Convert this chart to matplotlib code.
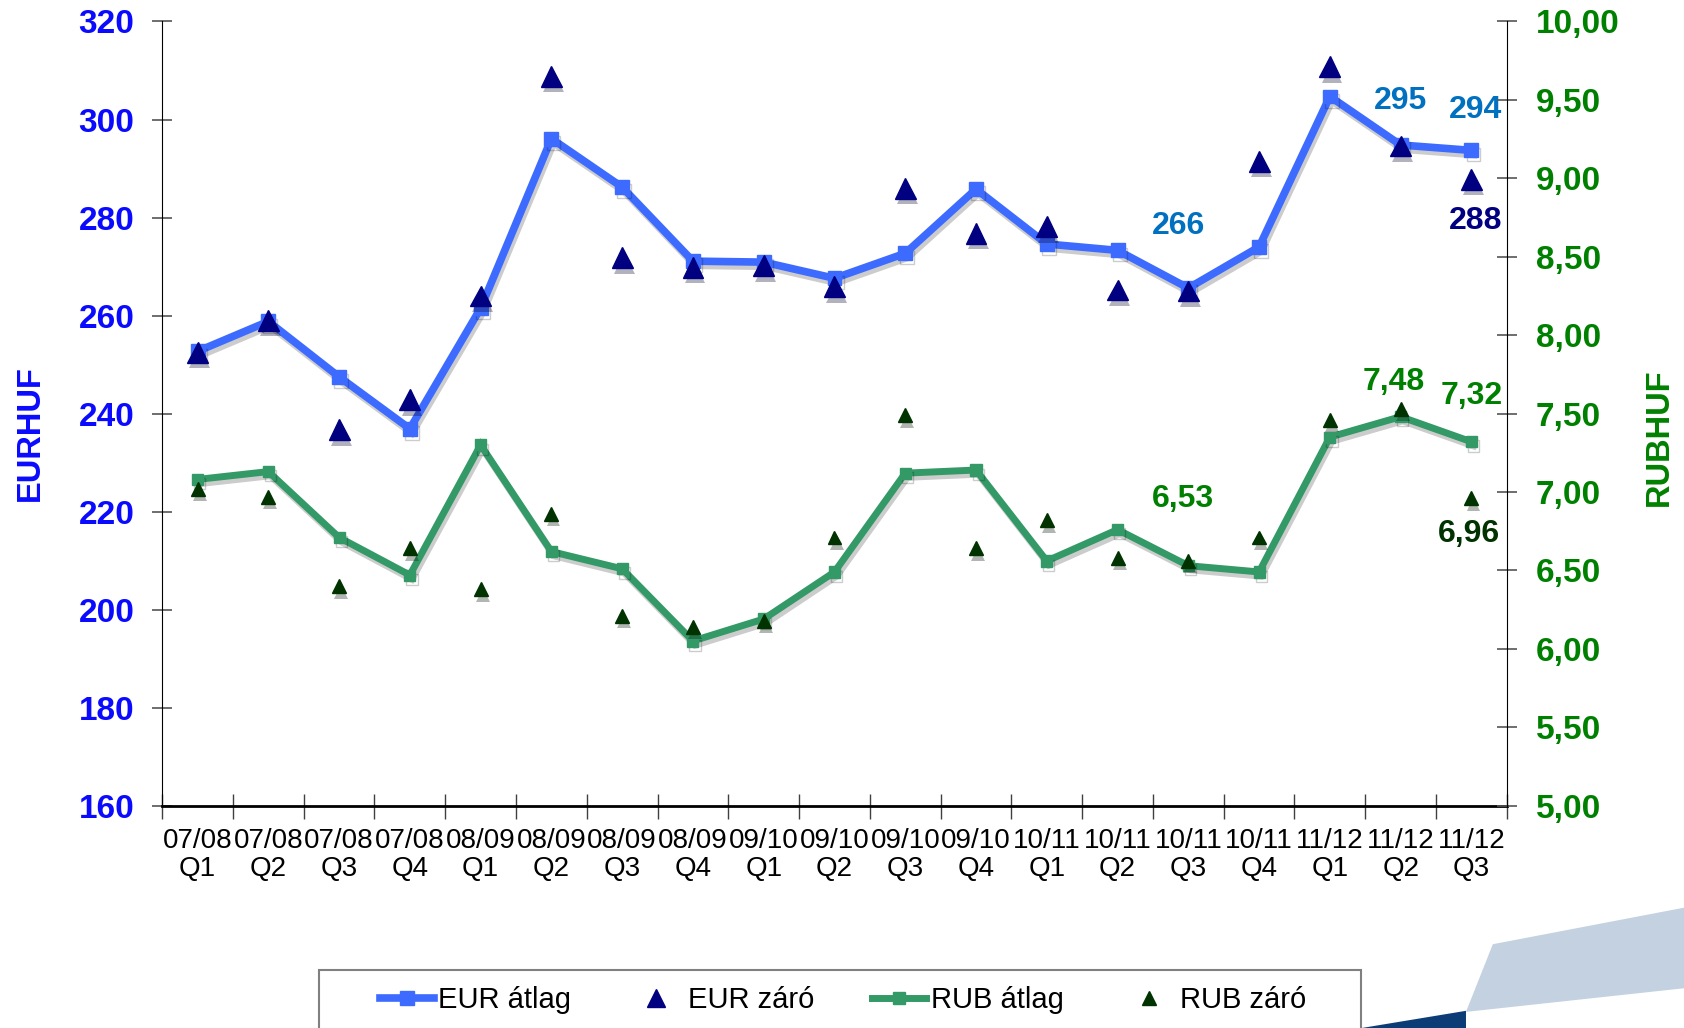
import matplotlib
matplotlib.use('Agg')
import matplotlib.pyplot as plt
import matplotlib.ticker as mtick
import matplotlib.patheffects as pe
from matplotlib.lines import Line2D
from matplotlib.patches import Polygon, Rectangle

plt.rcParams['font.family'] = ['Liberation Sans', 'DejaVu Sans']

# --- adatok ---
negyedevek = ['07/08\nQ1', '07/08\nQ2', '07/08\nQ3', '07/08\nQ4',
              '08/09\nQ1', '08/09\nQ2', '08/09\nQ3', '08/09\nQ4',
              '09/10\nQ1', '09/10\nQ2', '09/10\nQ3', '09/10\nQ4',
              '10/11\nQ1', '10/11\nQ2', '10/11\nQ3', '10/11\nQ4',
              '11/12\nQ1', '11/12\nQ2', '11/12\nQ3']
eur_atlag = [252.7, 258.8, 247.5, 236.9, 261.5, 296.1, 286.2, 271.1, 270.9, 267.6,
             272.7, 285.8, 274.6, 273.3, 265.6, 274.0, 304.7, 294.8, 293.7]
eur_zaro = [252.5, 259.0, 236.7, 242.8, 264.0, 308.8, 271.8, 269.8, 270.2, 265.9,
            286.0, 276.8, 278.1, 265.2, 265.0, 291.5, 310.8, 294.6, 287.8]
rub_atlag = [7.08, 7.13, 6.71, 6.47, 7.30, 6.62, 6.51, 6.05, 6.19, 6.49,
             7.12, 7.14, 6.56, 6.76, 6.53, 6.49, 7.35, 7.48, 7.32]
rub_zaro = [7.02, 6.97, 6.40, 6.64, 6.38, 6.86, 6.21, 6.14, 6.18, 6.71,
            7.49, 6.64, 6.82, 6.58, 6.56, 6.71, 7.46, 7.53, 6.96]

# feliratok: (index, sorozat, szöveg, eltolás pontban, szín)
eur_cimkek = [(14, eur_atlag, '266', (-7, 45), '#0070C0'),
              (17, eur_atlag, '295', (0, 32), '#0070C0'),
              (18, eur_atlag, '294', (3, 29), '#0070C0'),
              (18, eur_zaro, '288', (3, -30), '#000080')]
rub_cimkek = [(14, rub_atlag, '6,53', (-4, 48), '#008000'),
              (17, rub_atlag, '7,48', (-5, 25), '#008000'),
              (18, rub_atlag, '7,32', (0, 33), '#008000'),
              (18, rub_zaro, '6,96', (-2, -26), '#003300')]

C_EUR = '#3D6BFF'
C_EUR_Z = '#000080'
C_RUB = '#339966'
C_RUB_Z = '#003300'
C_BAL = '#0A0AFF'
C_JOBB = '#008000'

vonal_arnyek = [pe.SimpleLineShadow(offset=(1.5, -3), alpha=0.2), pe.Normal()]
jel_arnyek = [pe.SimplePatchShadow(offset=(1.5, -4), alpha=0.3), pe.Normal()]

fig = plt.figure(figsize=(16.84, 10.28), dpi=100)

# háttér díszítés jobb alul
fig.patches.append(Polygon([(1390 / 1568, 1 - 879 / 957), (1.0, 1 - 845 / 957),
                            (1.0, 1 - 920 / 957), (1365 / 1568, 1 - 942 / 957)],
                           closed=True, transform=fig.transFigure,
                           facecolor='#C3D1E1', edgecolor='none', zorder=0))
fig.patches.append(Polygon([(1268 / 1568, 0.0), (1365 / 1568, 1 - 941 / 957),
                            (1365 / 1568, 0.0)],
                           closed=True, transform=fig.transFigure,
                           facecolor='#0B3C75', edgecolor='none', zorder=0))
# jelmagyarázat kerete (alul levágva, mint az eredetin)
fig.patches.append(Rectangle((297 / 1568, -0.05), (1267 - 297) / 1568, 0.05 + 1 - 903 / 957,
                             transform=fig.transFigure, facecolor='white',
                             edgecolor='#808080', linewidth=1.5, zorder=1))

ax = fig.add_axes([151 / 1568, 1 - 750 / 957, (1403 - 151) / 1568, 730 / 957])
ax2 = ax.twinx()
x = list(range(len(negyedevek)))

ax.plot(x, eur_atlag, color=C_EUR, lw=5.5, marker='s', ms=10,
        solid_joinstyle='miter', path_effects=vonal_arnyek, zorder=3)
ax.plot(x, eur_zaro, ls='none', marker='^', ms=15, color=C_EUR_Z,
        path_effects=jel_arnyek, zorder=4)
ax2.plot(x, rub_atlag, color=C_RUB, lw=5, marker='s', ms=8,
         solid_joinstyle='miter', path_effects=vonal_arnyek, zorder=3)
ax2.plot(x, rub_zaro, ls='none', marker='^', ms=10, color=C_RUB_Z,
         path_effects=jel_arnyek, zorder=4)

for i, sor, szoveg, off, szin in eur_cimkek:
    ax.annotate(szoveg, (i, sor[i]), xytext=off, textcoords='offset points',
                ha='center', va='center', fontsize=23, fontweight='bold', color=szin)
for i, sor, szoveg, off, szin in rub_cimkek:
    ax2.annotate(szoveg, (i, sor[i]), xytext=off, textcoords='offset points',
                 ha='center', va='center', fontsize=23, fontweight='bold', color=szin)

ax.set_xlim(-0.5, len(negyedevek) - 0.5)
ax.set_ylim(160, 320)
ax2.set_ylim(5, 10)
ax.set_yticks(range(160, 321, 20))
ax2.set_yticks([5 + 0.5 * k for k in range(11)])
ax2.yaxis.set_major_formatter(mtick.FuncFormatter(lambda v, p: f'{v:.2f}'.replace('.', ',')))

ax.set_xticks([k - 0.5 for k in range(len(negyedevek) + 1)])
ax.set_xticklabels([])
ax.set_xticks(x, minor=True)
ax.set_xticklabels(negyedevek, minor=True, fontsize=20, linespacing=1.1)
ax.tick_params(axis='x', which='major', direction='inout', length=18, width=1, color='#404040')
ax.tick_params(axis='x', which='minor', length=0, pad=16)

ax.tick_params(axis='y', direction='inout', length=14, width=1.2, color='#555555',
               labelsize=24, labelcolor=C_BAL, pad=13)
ax2.tick_params(axis='y', direction='inout', length=14, width=1.2, color='#555555',
                labelsize=24, labelcolor=C_JOBB, pad=14)
for t in ax.get_yticklabels():
    t.set_fontweight('bold')
for t in ax2.get_yticklabels():
    t.set_fontweight('bold')

for a in (ax, ax2):
    a.spines['top'].set_visible(False)
    a.patch.set_alpha(0)
ax.spines['right'].set_visible(False)
ax.spines['bottom'].set_linewidth(2)
ax2.spines['left'].set_visible(False)
ax2.spines['bottom'].set_visible(False)

fig.text(28 / 1568, 1 - 403 / 957, 'EURHUF', rotation=90, ha='center', va='center',
         fontsize=23.5, fontweight='bold', color=C_BAL)
fig.text(1545 / 1568, 1 - 407 / 957, 'RUBHUF', rotation=90, ha='center', va='center',
         fontsize=23.5, fontweight='bold', color=C_JOBB)

kezelok = [Line2D([], [], color=C_EUR, lw=5.5, marker='s', ms=10),
           Line2D([], [], ls='none', marker='^', ms=13, color=C_EUR_Z),
           Line2D([], [], color=C_RUB, lw=5, marker='s', ms=8),
           Line2D([], [], ls='none', marker='^', ms=10, color=C_RUB_Z)]
leg = fig.legend(kezelok, ['EUR átlag', 'EUR záró', 'RUB átlag', 'RUB záró'],
                 loc='center', ncol=4, borderaxespad=0, frameon=False,
                 bbox_to_anchor=(785 / 1568, 1 - 931 / 957),
                 fontsize=21, handlelength=1.85, handletextpad=0.15, columnspacing=2.0)
leg.set_zorder(2)

fig.savefig('out.png', dpi=100, facecolor='white')
